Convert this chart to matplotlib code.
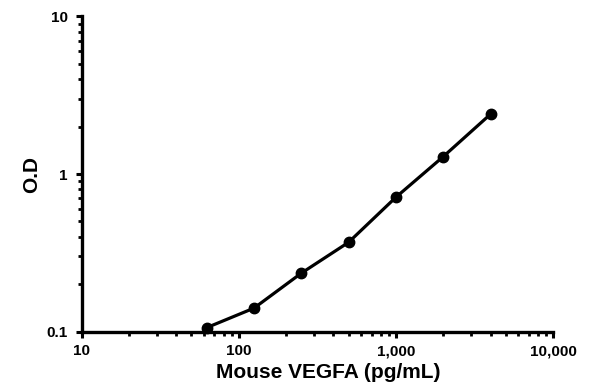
import numpy as np
import matplotlib.pyplot as plt
from matplotlib.ticker import LogLocator, NullFormatter

plt.rcParams['font.family'] = ['Liberation Sans', 'DejaVu Sans']
plt.rcParams['font.weight'] = 'bold'

# Standard curve data
conc = [62.5, 125, 250, 500, 1000, 2000, 4000]  # pg/mL
od = [0.106, 0.141, 0.235, 0.369, 0.713, 1.29, 2.40]

xticks = [10, 100, 1000, 10000]
xticklabels = ['10', '100', '1,000', '10,000']
yticks = [0.1, 1, 10]
yticklabels = ['0.1', '1', '10']

fig = plt.figure(figsize=(5.96, 3.92), dpi=100)
ax = fig.add_axes([0.137, 0.154, 0.791, 0.804])

ax.plot(conc, od, color='black', linewidth=2.3, marker='o', markersize=7.5,
        clip_on=False, zorder=3)

ax.set_xscale('log')
ax.set_yscale('log')
ax.set_xlim(10, 10000)
ax.set_ylim(0.1, 10)

ax.set_xticks(xticks)
ax.set_xticklabels(xticklabels)
ax.set_yticks(yticks)
ax.set_yticklabels(yticklabels)
ax.xaxis.set_minor_locator(LogLocator(base=10, subs=np.arange(2, 10)))
ax.yaxis.set_minor_locator(LogLocator(base=10, subs=np.arange(2, 10)))
ax.xaxis.set_minor_formatter(NullFormatter())
ax.yaxis.set_minor_formatter(NullFormatter())

ax.tick_params(which='major', direction='out', length=4, width=2.2,
               labelsize=11, pad=6)
ax.tick_params(axis='x', which='major', pad=5)
ax.tick_params(which='minor', direction='out', length=3, width=2)

for side in ['top', 'right']:
    ax.spines[side].set_visible(False)
for side in ['left', 'bottom']:
    ax.spines[side].set_linewidth(2.4)

ax.set_xlabel('Mouse VEGFA (pg/mL)', fontsize=15, fontweight='bold')
ax.xaxis.set_label_coords(0.524, -0.098, transform=ax.transAxes)
ax.xaxis.label.set_va('top')
ax.set_ylabel('O.D', fontsize=15, fontweight='bold', labelpad=4)

fig.savefig('out.png', dpi=100)
